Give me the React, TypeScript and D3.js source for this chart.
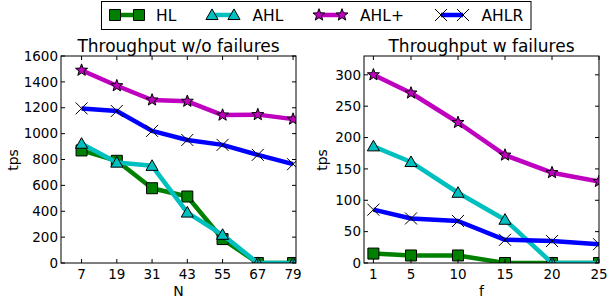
import React from "react";
import * as d3 from "d3";

const seriesNames = ["HL", "AHL", "AHL+", "AHLR"];
const seriesColors = ["#008000", "#00bfbf", "#bf00bf", "#0000ff"];
const seriesMarkers = ["square", "triangle", "star", "x"];

const leftN = [7, 19, 31, 43, 55, 67, 79];
const leftHL = [870, 790, 578, 514, 185, 0, 0];
const leftAHL = [922, 776, 751, 390, 218, 0, 0];
const leftAHLp = [1490, 1370, 1260, 1250, 1143, 1147, 1112];
const leftAHLR = [1195, 1175, 1021, 951, 913, 836, 764];
const leftYTicks = [0, 200, 400, 600, 800, 1000, 1200, 1400, 1600];

const rightF = [1, 5, 10, 15, 20, 25];
const rightHL = [15, 12, 12, 0, 0, 0];
const rightAHL = [186, 161, 112, 69, 0, 0];
const rightAHLp = [300, 271, 224, 172, 144, 130];
const rightAHLR = [85, 71, 67, 37, 35, 30];
const rightYTicks = [0, 50, 100, 150, 200, 250, 300];

const FONT = "DejaVu Sans, Bitstream Vera Sans, sans-serif";

function markerPath(kind: string, s: number): string {
  const r = s / 2;
  if (kind === "square") return `M${-r},${-r}H${r}V${r}H${-r}Z`;
  if (kind === "triangle") {
    const h = r * 1.1;
    return `M0,${-h}L${h},${h * 0.75}L${-h},${h * 0.75}Z`;
  }
  if (kind === "star") {
    const pts: string[] = [];
    const R = r * 1.15;
    const ri = R * 0.42;
    for (let i = 0; i < 10; i++) {
      const a = -Math.PI / 2 + (i * Math.PI) / 5;
      const rr = i % 2 === 0 ? R : ri;
      pts.push(`${(Math.cos(a) * rr).toFixed(2)},${(Math.sin(a) * rr).toFixed(2)}`);
    }
    return "M" + pts.join("L") + "Z";
  }
  return `M${-r},${-r}L${r},${r}M${-r},${r}L${r},${-r}`;
}

function Marker({ kind, color, x, y }: { kind: string; color: string; x: number; y: number }) {
  const size = kind === "x" ? 12 : kind === "square" ? 11 : 11;
  if (kind === "x")
    return <path d={markerPath(kind, size)} transform={`translate(${x},${y})`} stroke="#000" strokeWidth={1} fill="none" />;
  return (
    <path d={markerPath(kind, size)} transform={`translate(${x},${y})`} fill={color} stroke="#000" strokeWidth={1} />
  );
}

type PanelProps = {
  id: string;
  x0: number;
  x1: number;
  y0: number;
  y1: number;
  xDomain: [number, number];
  yDomain: [number, number];
  xs: number[];
  series: number[][];
  yTicks: number[];
  title: string;
  xLabel: string;
};

function Panel(p: PanelProps) {
  const xs = d3.scaleLinear().domain(p.xDomain).range([p.x0, p.x1]);
  const ys = d3.scaleLinear().domain(p.yDomain).range([p.y1, p.y0]);
  const line = d3
    .line<number>()
    .x((_, i) => xs(p.xs[i]))
    .y((d) => ys(d));
  const tl = 4;
  return (
    <g>
      <defs>
        <clipPath id={p.id}>
          <rect x={p.x0} y={p.y0} width={p.x1 - p.x0} height={p.y1 - p.y0} />
        </clipPath>
      </defs>
      <g clipPath={`url(#${p.id})`}>
        {p.series.map((vals, si) => (
          <g key={si}>
            <path d={line(vals) || ""} fill="none" stroke={seriesColors[si]} strokeWidth={4.5} strokeLinejoin="round" />
            {vals.map((v, i) => (
              <Marker key={i} kind={seriesMarkers[si]} color={seriesColors[si]} x={xs(p.xs[i])} y={ys(v)} />
            ))}
          </g>
        ))}
      </g>
      <rect x={p.x0} y={p.y0} width={p.x1 - p.x0} height={p.y1 - p.y0} fill="none" stroke="#000" strokeWidth={1} />
      {p.xs.map((t) => (
        <g key={"xt" + t}>
          <line x1={xs(t)} x2={xs(t)} y1={p.y1} y2={p.y1 - tl} stroke="#000" />
          <line x1={xs(t)} x2={xs(t)} y1={p.y0} y2={p.y0 + tl} stroke="#000" />
          <text x={xs(t)} y={p.y1 + 16} textAnchor="middle" fontSize={13.5} fontFamily={FONT}>
            {t}
          </text>
        </g>
      ))}
      {p.yTicks.map((t) => (
        <g key={"yt" + t}>
          <line x1={p.x0} x2={p.x0 + tl} y1={ys(t)} y2={ys(t)} stroke="#000" />
          <line x1={p.x1} x2={p.x1 - tl} y1={ys(t)} y2={ys(t)} stroke="#000" />
          <text x={p.x0 - 3} y={ys(t)} dy="0.35em" textAnchor="end" fontSize={13.5} fontFamily={FONT}>
            {t}
          </text>
        </g>
      ))}
      <text x={(p.x0 + p.x1) / 2} y={p.y0 - 4} textAnchor="middle" fontSize={17} fontFamily={FONT}>
        {p.title}
      </text>
      <text x={(p.x0 + p.x1) / 2} y={p.y1 + 33} textAnchor="middle" fontSize={14} fontFamily={FONT}>
        {p.xLabel}
      </text>
    </g>
  );
}

export default function App() {
  const legendItems = [
    { mx: [115, 139], tx: 156 },
    { mx: [212, 234], tx: 252.5 },
    { mx: [319, 342], tx: 360 },
    { mx: [441, 463], tx: 481.5 },
  ];
  return (
    <svg width={610} height={305} style={{ position: "absolute", left: 0, top: 0 }}>
      <rect width={610} height={305} fill="#fff" />
      <Panel
        id="clipL"
        x0={61}
        x1={296}
        y0={56}
        y1={263}
        xDomain={[0, 80]}
        yDomain={[0, 1600]}
        xs={leftN}
        series={[leftHL, leftAHL, leftAHLp, leftAHLR]}
        yTicks={leftYTicks}
        title="Throughput w/o failures"
        xLabel="N"
      />
      <Panel
        id="clipR"
        x0={364}
        x1={599}
        y0={56}
        y1={263}
        xDomain={[0, 25]}
        yDomain={[0, 330]}
        xs={rightF}
        series={[rightHL, rightAHL, rightAHLp, rightAHLR]}
        yTicks={rightYTicks}
        title="Throughput w failures"
        xLabel="f"
      />
      <text transform={`translate(18,160) rotate(-90)`} textAnchor="middle" fontSize={14} fontFamily={FONT}>
        tps
      </text>
      <text transform={`translate(327,160) rotate(-90)`} textAnchor="middle" fontSize={14} fontFamily={FONT}>
        tps
      </text>
      <rect x={101.5} y={1.5} width={429.5} height={28} fill="#fff" stroke="#000" strokeWidth={1} />
      {seriesNames.map((name, i) => {
        const it = legendItems[i];
        return (
          <g key={name}>
            <line x1={it.mx[0]} x2={it.mx[1]} y1={15} y2={15} stroke={seriesColors[i]} strokeWidth={4.5} />
            <Marker kind={seriesMarkers[i]} color={seriesColors[i]} x={it.mx[0]} y={15} />
            <Marker kind={seriesMarkers[i]} color={seriesColors[i]} x={it.mx[1]} y={15} />
            <text x={it.tx} y={15} dy="0.36em" fontSize={15.5} fontFamily={FONT}>
              {name}
            </text>
          </g>
        );
      })}
    </svg>
  );
}
